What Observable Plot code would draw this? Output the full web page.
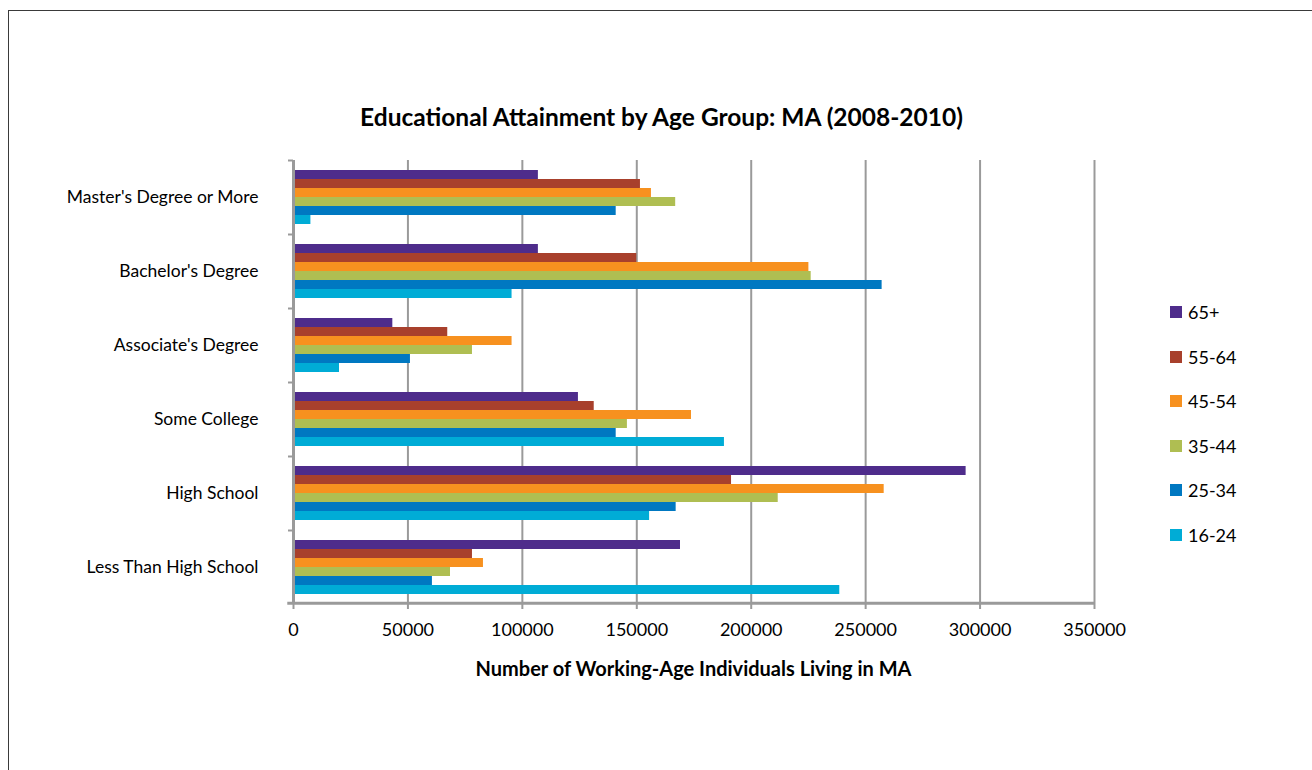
<!DOCTYPE html>
<html><head><meta charset="utf-8">
<script src="https://cdn.jsdelivr.net/npm/d3@7"></script>
<script src="https://cdn.jsdelivr.net/npm/@observablehq/plot@0.6"></script>
<style>
html,body{margin:0;padding:0;background:#fff;overflow:hidden;width:1312px;height:770px;}
#wrap{position:relative;width:1312px;height:770px;font-family:Lato, "Open Sans", sans-serif;color:#000;}
#border{position:absolute;left:8px;top:10px;width:1400px;height:900px;border:1px solid #3a3a3a;box-sizing:border-box;}
#chart{position:absolute;left:0;top:0;}
#title{position:absolute;left:0;width:1323px;top:103px;text-align:center;font-weight:bold;font-size:24.5px;line-height:28px;}
#xtitle{position:absolute;left:293px;width:801px;top:656px;text-align:center;font-weight:bold;font-size:20px;line-height:24px;}
.lg{position:absolute;left:1170px;height:20px;display:flex;align-items:center;font-size:18px;line-height:20px;}
.lg span.sw{display:inline-block;width:12px;height:12px;margin-right:6px;}
</style></head>
<body><div id="wrap"><div id="border"></div><div id="chart"></div>
<div id="title"></div><div id="xtitle"></div><div id="legend"></div></div>
<script>
const titleText = "Educational Attainment by Age Group: MA (2008-2010)";
const xTitle = "Number of Working-Age Individuals Living in MA";
const categories = ["Master's Degree or More", "Bachelor's Degree", "Associate's Degree", "Some College", "High School", "Less Than High School"];
const ageGroups = ["65+", "55-64", "45-54", "35-44", "25-34", "16-24"];
const colors = ["#4e2c8b", "#a8402c", "#f7911f", "#afbe52", "#0078c1", "#00acd6"];
// values per age group, in category order
const age65plus = [107000, 107000, 43400, 124500, 293900, 169100];
const age55_64 = [151600, 150000, 67400, 131400, 191400, 78200];
const age45_54 = [156400, 225200, 95500, 173900, 258100, 83000];
const age35_44 = [167000, 226200, 78200, 145900, 211800, 68600];
const age25_34 = [141000, 257200, 51100, 141000, 167200, 60700];
const age16_24 = [7600, 95500, 20100, 188300, 155600, 238700];
const xTicks = [0, 50000, 100000, 150000, 200000, 250000, 300000, 350000];

const series = [age65plus, age55_64, age45_54, age35_44, age25_34, age16_24];
const rows = categories.flatMap((c, i) => ageGroups.map((a, j) => ({category: c, age: a, value: series[j][i]})));

const gray = "#9a9a9a";
const chart = Plot.plot({
  width: 1312, height: 770,
  marginTop: 160, marginBottom: 166, marginLeft: 293, marginRight: 218,
  style: {fontFamily: "Lato, 'Open Sans', sans-serif", color: "#000", background: "transparent"},
  x: {domain: [0, 350000]},
  y: {domain: ageGroups, paddingInner: 0, paddingOuter: 0.9, axis: null},
  fy: {domain: categories, padding: 0},
  color: {domain: ageGroups, range: colors},
  marks: [
    Plot.gridX(xTicks, {stroke: gray, strokeOpacity: 1, strokeWidth: 2}),
    Plot.barX(rows, {fy: "category", y: "age", x: "value", fill: "age"}),
    Plot.ruleX([0], {stroke: gray, strokeWidth: 3}),
    Plot.ruleY([{category: categories[categories.length - 1], age: ageGroups[ageGroups.length - 1]}],
      {fy: "category", y: "age", x1: -2500, x2: 350000, dy: 13.3, stroke: gray, strokeWidth: 3}),
    Plot.axisFy({anchor: "left", tickSize: 0, tickPadding: 35, fontSize: 17.5, label: null}),
    Plot.axisFy({anchor: "left", tickSize: 5, tickFormat: () => "", dy: -37, stroke: gray, strokeWidth: 2, label: null}),
    Plot.axisX(xTicks, {anchor: "bottom", tickSize: 5, tickPadding: 14, fontSize: 18, tickFormat: d3.format("d"), stroke: gray, strokeWidth: 2, label: null})
  ]
});
document.getElementById("chart").appendChild(chart);
document.getElementById("title").textContent = titleText;
document.getElementById("xtitle").textContent = xTitle;
const legendTops = [302, 347, 391, 436, 480, 525];
const lg = document.getElementById("legend");
ageGroups.forEach((a, i) => {
  const d = document.createElement("div");
  d.className = "lg";
  d.style.top = legendTops[i] + "px";
  const s = document.createElement("span");
  s.className = "sw"; s.style.background = colors[i];
  d.appendChild(s);
  d.appendChild(document.createTextNode(a));
  lg.appendChild(d);
});
</script></body></html>
